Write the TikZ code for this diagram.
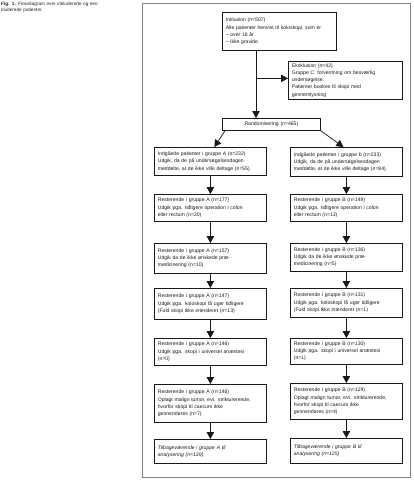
\documentclass[tikz,border=0pt]{standalone}
\usepackage{fontspec}
\setmainfont{Liberation Sans}
\usetikzlibrary{arrows.meta,calc}
\tikzset{
  box/.style={draw=black!90, line width=0.75pt, rectangle, anchor=north west,
    inner xsep=3.5pt, inner ysep=2pt, align=left, text=black!90,
    font=\fontsize{5.1}{7.3}\selectfont},
  colbox/.style={box, text width=105pt},
  arr/.style={draw=black!90, line width=0.75pt, -{Triangle[width=7.5pt,length=7pt]}},
  frame/.style={draw=black!50, line width=0.7pt},
}
\begin{document}
\begin{tikzpicture}[x=1pt,y=-1pt]
\useasboundingbox (0,0) rectangle (414,480);
\draw[frame] (142,3) rectangle (410,477);
\node[anchor=north west, inner sep=0pt, text width=140pt, align=left, text=black!85,
  font=\fontsize{4.7}{6.2}\selectfont] (cap) at (1,2)
  {\textbf{Fig. 1.} Flowdiagram over inkluderede og eks-\\kluderede patienter.};

\node[box, text width=107pt, minimum height=38pt] (incl) at (222,12)
  {Inklusion (n=507)\\Alle patienter henvist til koloskopi, som er\\– over 18 år\\– ikke gravide};
\node[box, text width=107pt, minimum height=38pt] (excl) at (288,61)
  {Eksklusion (n=42)\\Gruppe C: forventning om besværlig\\undersøgelse.\\Patienter bookes til skopi med\\gennemlysning};
\node[box, text width=91pt, align=center, minimum height=12pt, inner ysep=1pt] (rand) at (222,118)
  {Randomisering (n=465)};

% Group A
\node[colbox, minimum height=28pt] (A1) at (154,147)
  {Indgåede patienter i gruppe A (n=232)\\Udgik, da de på undersøgelsesdagen\\meddelte, at de ikke ville deltage (n=55)};
\node[colbox, minimum height=27pt] (A2) at (154,194)
  {Resterende i gruppe A (n=177)\\Udgik pga. tidligere operation i colon\\eller rectum (n=20)};
\node[colbox, minimum height=30pt] (A3) at (154,243)
  {Resterende i gruppe A (n=157)\\Udgik da de ikke ønskede præ-\\medicinering (n=10)};
\node[colbox, minimum height=31pt] (A4) at (154,288)
  {Resterende i gruppe A (n=147)\\Udgik pga. koloskopi få uger tidligere\\(Fuld skopi ikke intenderet (n=13)};
\node[colbox, minimum height=27pt] (A5) at (154,338)
  {Resterende i gruppe A (n=146)\\Udgik pga. skopi i universel anæstesi\\(n=0)};
\node[colbox, minimum height=38pt] (A6) at (154,384)
  {Resterende i gruppe A (n=146)\\Oplagt malign tumor, evt. strikturerende,\\hvorfor skopi til caecum ikke\\gennemføres (n=7)};
\node[colbox, minimum height=24pt, font=\fontsize{5.1}{7.3}\selectfont\itshape] (A7) at (154,439)
  {Tilbageværende i gruppe A til\\analysering (n=139)};

% Group B
\node[colbox, minimum height=29pt] (B1) at (290,147)
  {Indgåede patienter i gruppe b (n=233)\\Udgik, da de på undersøgelsesdagen\\meddelte, at de ikke ville deltage (n=84)};
\node[colbox, minimum height=27pt] (B2) at (290,194)
  {Resterende i gruppe B (n=149)\\Udgik pga. tidligere operation i colon\\eller rectum (n=13)};
\node[colbox, minimum height=28pt] (B3) at (290,243)
  {Resterende i gruppe B (n=136)\\Udgik da de ikke ønskede præ-\\medicinering (n=5)};
\node[colbox, minimum height=29pt] (B4) at (290,288)
  {Resterende i gruppe B (n=131)\\Udgik pga. koloskopi få uger tidligere\\(Fuld skopi ikke intenderet (n=1)};
\node[colbox, minimum height=26pt] (B5) at (290,338)
  {Resterende i gruppe B (n=130)\\Udgik pga. skopi i universel anæstesi\\(n=1)};
\node[colbox, minimum height=36pt] (B6) at (290,383)
  {Resterende i gruppe B (n=129)\\Oplagt malign tumor, evt. strikturerende,\\hvorfor skopi til caecum ikke\\gennemføres (n=4)};
\node[colbox, minimum height=25pt, font=\fontsize{5.1}{7.3}\selectfont\itshape] (B7) at (290,438)
  {Tilbageværende i gruppe B til\\analysering (n=125)};

% connectors
\coordinate (trunk) at ($(incl.south west)+(34,0)$);
\draw[arr] (trunk) -- (trunk |- rand.north);
\draw[arr] ($(trunk |- excl.west)+(0,-2)$) -- ($(excl.west)+(0,-2)$);
\draw[arr] ($(rand.south west)+(3,0)$) -- ($(A1.north)+(4,0)$);
\draw[arr] (rand.south east) -- ($(B1.north)+(-3,0)$);
\foreach \i/\j in {1/2,2/3,3/4,4/5,5/6,6/7}{
  \draw[arr] (A\i.south) -- (A\j.north);
  \draw[arr] (B\i.south) -- (B\j.north);
}
\end{tikzpicture}
\end{document}
